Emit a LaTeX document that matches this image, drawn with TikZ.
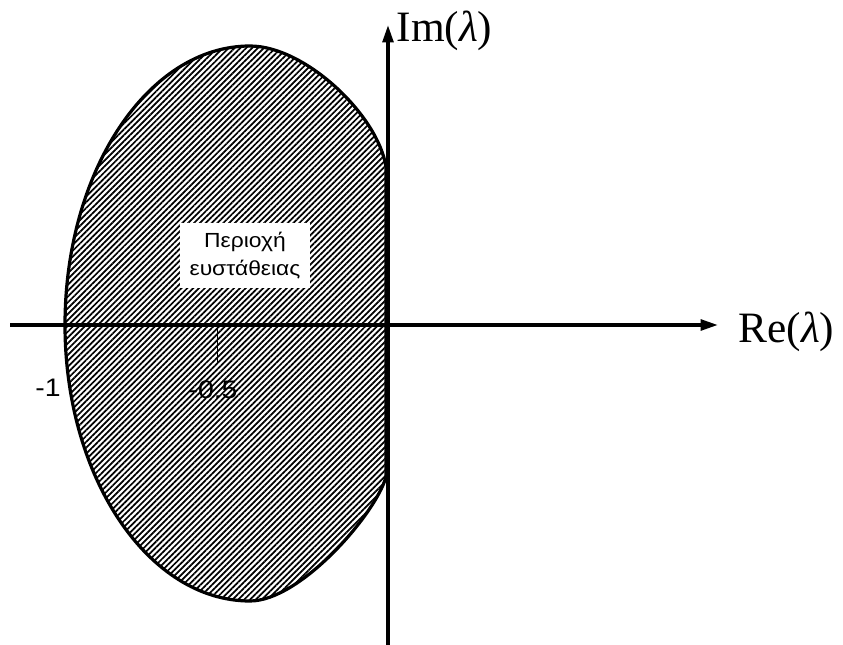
\documentclass[tikz,border=0pt]{standalone}
\usepackage{fontspec}
\setmainfont{Liberation Serif}
\newfontfamily\grfont[FakeStretch=1.12]{Liberation Sans}
\usetikzlibrary{arrows.meta,patterns.meta}

\begin{document}
\begin{tikzpicture}[x=0.75pt,y=-0.75pt,>={Triangle[length=13pt,width=8pt]},line width=2.4pt,
    axislabel/.style={anchor=base west, inner sep=0pt, font=\fontsize{32.5}{36}\selectfont},
    ticklabel/.style={anchor=base, inner sep=0pt, font=\grfont\fontsize{19}{22}\selectfont},
    hatch/.style={pattern={Lines[angle=45,distance=3.1pt,line width=1.3pt]}}]
        \useasboundingbox (0,0) rectangle (843,645);
        % stability region
        \path[hatch] (65,325) .. controls (65,171) and (148,46) .. (250,46)
            .. controls (305,46) and (378,115) .. (386,167) -- (386,477)
            .. controls (375,515) and (300,601) .. (250,601)
            .. controls (148,601) and (65,477) .. (65,325) -- cycle;
        \draw (65,325) .. controls (65,171) and (148,46) .. (250,46)
            .. controls (305,46) and (378,115) .. (386,167) -- (386,477)
            .. controls (375,515) and (300,601) .. (250,601)
            .. controls (148,601) and (65,477) .. (65,325) -- cycle;
        \node (region) [fill=white, inner sep=0pt, minimum width=97.5pt, minimum height=48.75pt, align=center,
            font=\grfont\fontsize{15.3}{20.5}\selectfont] at (245,255.5) {Περιοχή\\ευστάθειας};
        % axes
        \coordinate (xstart) at (10,325);
        \coordinate (xend) at (718,325);
        \coordinate (ystart) at (388,645);
        \coordinate (yend) at (388,25);
        \draw[->, line width=2.6pt] (xstart) -- (xend);
        \draw[->, line width=2.6pt] (ystart) -- (yend);
        \node (re) [axislabel] at (737,343) {Re(\textit{λ})};
        \node (im) [axislabel] at (395,42) {Im(\textit{λ})};
        % ticks
        \coordinate (t1) at (65,325);
        \coordinate (t1b) at (65,363);
        \coordinate (t2) at (217,325);
        \coordinate (t2b) at (217,363);
        \draw[line width=0.7pt] (t1) -- (t1b);
        \draw[line width=0.7pt] (t2) -- (t2b);
        \node (m1) [ticklabel] at (48,397) {-1};
        \node (m05) [ticklabel] at (213,398) {-0.5};
\end{tikzpicture}
\end{document}
